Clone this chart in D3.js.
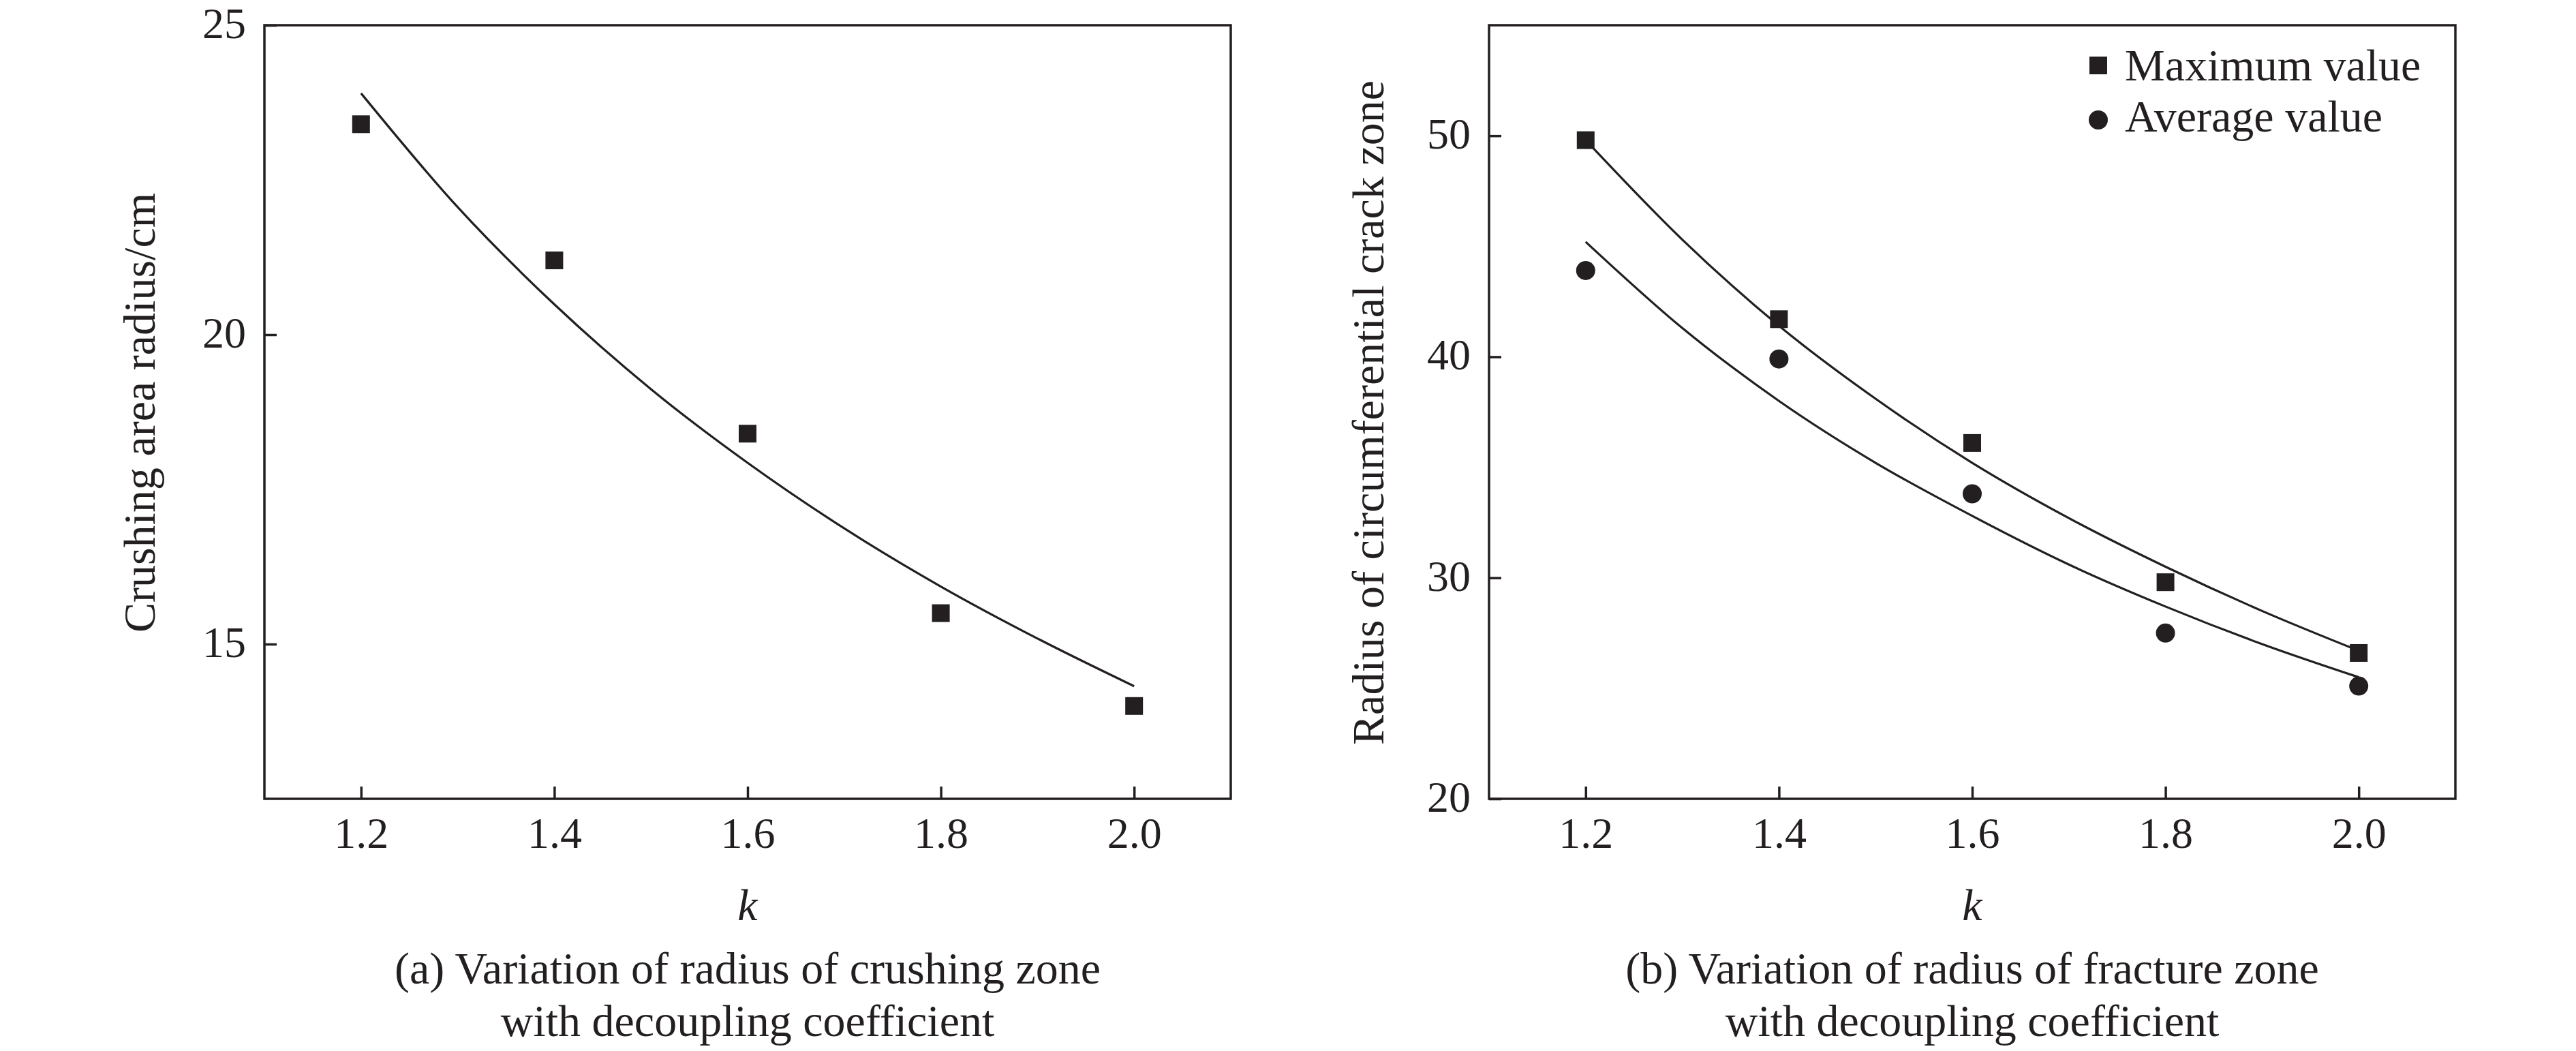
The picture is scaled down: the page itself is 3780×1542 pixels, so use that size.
<!DOCTYPE html>
<html>
<head>
<meta charset="utf-8">
<script src="https://d3js.org/d3.v7.min.js"></script>
<style>
body { margin: 0; background: #fff; }
text { font-family: "Liberation Serif", "Times New Roman", serif; }
</style>
</head>
<body>
<div id="chart"></div>
<script>
// values
var kValues = [1.2, 1.4, 1.6, 1.8, 2.0];
var crushRadius = [23.4, 21.2, 18.4, 15.5, 14.0];
var crackMax = [49.8, 41.7, 36.1, 29.8, 26.6];
var crackAvg = [43.9, 39.9, 33.8, 27.5, 25.1];

// fitted curves
var fitK = [1.2, 1.3, 1.4, 1.5, 1.6, 1.7, 1.8, 1.9, 2.0];
var crushFit = [23.9, 22.06, 20.49, 19.12, 17.93, 16.87, 15.93, 15.09, 14.32];
var crackMaxFit = [49.8, 45.3, 41.4, 38.1, 35.2, 32.7, 30.5, 28.5, 26.7];
var crackAvgFit = [45.2, 41.3, 38.0, 35.2, 32.8, 30.6, 28.7, 27.0, 25.5];

// tick labels
var xTicks = [1.2, 1.4, 1.6, 1.8, 2.0];
var crushTicks = [15, 20, 25];
var crackTicks = [20, 30, 40, 50];
var legendNames = ["Maximum value", "Average value"];

var svgWidth = 3780;
var svgHeight = 1542;
var ink = "#231f20";
var fontSize = 66;

var svg = d3.select("#chart").append("svg")
    .attr("width", svgWidth)
    .attr("height", svgHeight);

svg.append("rect").attr("width", svgWidth).attr("height", svgHeight).attr("fill", "#fff");

var plotW = 1418;
var plotH = 1135;

function drawPanel(opt) {
    var g = svg.append("g").attr("transform", `translate(${opt.left},37)`);

    var xScale = d3.scaleLinear().domain([1.1, 2.1]).range([0, plotW]);
    var yScale = d3.scaleLinear().domain(opt.yDomain).range([plotH, 0]);

    // x axis, ticks pointing in
    var xAxis = g.append("g")
        .attr("transform", `translate(0,${plotH})`)
        .call(d3.axisBottom(xScale).tickValues(xTicks).tickFormat(d3.format(".1f"))
            .tickSizeInner(-18).tickSizeOuter(0).tickPadding(27));
    styleAxis(xAxis);

    var yAxis = g.append("g")
        .call(d3.axisLeft(yScale).tickValues(opt.yTicks).tickFormat(d3.format("d"))
            .tickSizeInner(-18).tickSizeOuter(0).tickPadding(27));
    styleAxis(yAxis);
    yAxis.selectAll("text").attr("dy", "0.29em");

    // frame
    g.append("rect")
        .attr("width", plotW)
        .attr("height", plotH)
        .attr("fill", "none")
        .attr("stroke", ink)
        .attr("stroke-width", 3.5);

    var line = d3.line()
        .x((d, i) => xScale(fitK[i]))
        .y(d => yScale(d))
        .curve(d3.curveMonotoneX);

    opt.fits.forEach(function(f) {
        g.append("path")
            .datum(f)
            .attr("d", line)
            .attr("fill", "none")
            .attr("stroke", ink)
            .attr("stroke-width", 3.2);
    });

    // square markers
    g.selectAll(".sq")
        .data(opt.squares)
        .enter()
        .append("rect")
        .attr("class", "sq")
        .attr("x", (d, i) => xScale(kValues[i]) - 13)
        .attr("y", d => yScale(d) - 13)
        .attr("width", 26)
        .attr("height", 26)
        .attr("fill", ink);

    if (opt.circles) {
        g.selectAll(".dot")
            .data(opt.circles)
            .enter()
            .append("circle")
            .attr("class", "dot")
            .attr("cx", (d, i) => xScale(kValues[i]))
            .attr("cy", d => yScale(d))
            .attr("r", 14)
            .attr("fill", ink);
    }

    // y label
    g.append("text")
        .attr("transform", `translate(${opt.yLabelX},${plotH / 2 + 1}) rotate(-90)`)
        .attr("text-anchor", "middle")
        .attr("font-size", fontSize)
        .attr("fill", ink)
        .text(opt.yLabel);

    // x label
    g.append("text")
        .attr("x", plotW / 2)
        .attr("y", 1313)
        .attr("text-anchor", "middle")
        .attr("font-size", fontSize)
        .attr("font-style", "italic")
        .attr("fill", ink)
        .text("k");

    // caption
    opt.caption.forEach(function(c, i) {
        g.append("text")
            .attr("x", plotW / 2)
            .attr("y", 1406 + i * 77)
            .attr("text-anchor", "middle")
            .attr("font-size", fontSize)
            .attr("fill", ink)
            .text(c);
    });

    return g;
}

function styleAxis(ax) {
    ax.select(".domain").remove();
    ax.attr("color", ink);
    ax.selectAll(".tick line").attr("stroke-width", 3.5);
    ax.selectAll("text")
        .attr("font-size", 64)
        .attr("font-family", "'Liberation Serif', 'Times New Roman', serif");
}

drawPanel({
    left: 388,
    yDomain: [12.5, 25],
    yTicks: crushTicks,
    squares: crushRadius,
    circles: null,
    fits: [crushFit],
    yLabel: "Crushing area radius/cm",
    yLabelX: -161,
    caption: ["(a) Variation of radius of crushing zone", "with decoupling coefficient"]
});

var panelB = drawPanel({
    left: 2185,
    yDomain: [20, 55],
    yTicks: crackTicks,
    squares: crackMax,
    circles: crackAvg,
    fits: [crackMaxFit, crackAvgFit],
    yLabel: "Radius of circumferential crack zone",
    yLabelX: -155,
    caption: ["(b) Variation of radius of fracture zone", "with decoupling coefficient"]
});

// legend
var legend = panelB.append("g").attr("transform", "translate(894,0)");
legend.append("rect")
    .attr("x", -13).attr("y", 46)
    .attr("width", 26).attr("height", 26)
    .attr("fill", ink);
legend.append("circle")
    .attr("cx", 0).attr("cy", 139)
    .attr("r", 14)
    .attr("fill", ink);
legend.selectAll(".lg")
    .data(legendNames)
    .enter()
    .append("text")
    .attr("class", "lg")
    .attr("x", 39)
    .attr("y", (d, i) => 81 + i * 75)
    .attr("font-size", fontSize)
    .attr("fill", ink)
    .text(d => d);
</script>
</body>
</html>
